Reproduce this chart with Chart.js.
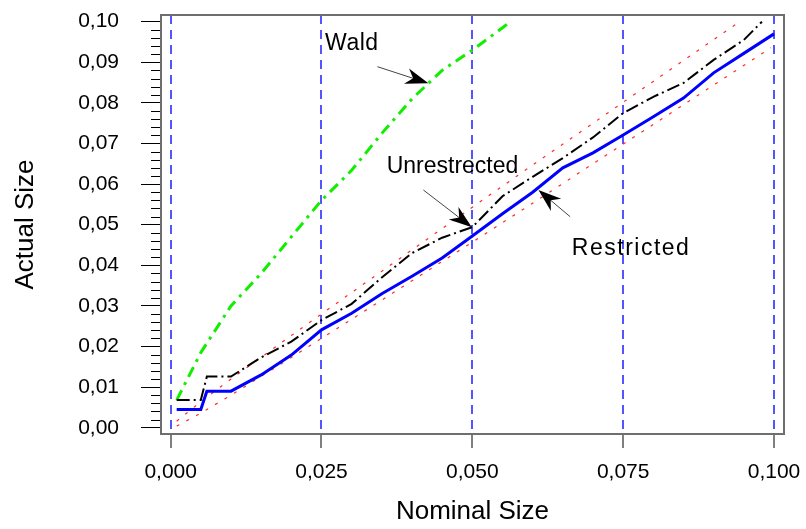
<!DOCTYPE html>
<html>
<head>
<meta charset="utf-8">
<script src="https://cdn.jsdelivr.net/npm/chart.js@4"></script>
<style>
  body { margin: 0; background: #fff; }
  canvas { display: block; }
</style>
</head>
<body>
<canvas id="sizeChart" width="806" height="529"></canvas>
<script>
// values (nominal size -> actual size)
var restrictedX = [0.001, 0.005, 0.006, 0.010, 0.015, 0.020, 0.025, 0.030, 0.035, 0.040, 0.045, 0.050,
                   0.055, 0.060, 0.065, 0.070, 0.075, 0.080, 0.085, 0.090, 0.095, 0.100];
var restrictedY = [0.0045, 0.0045, 0.0090, 0.0090, 0.0130, 0.0179, 0.0241, 0.0282, 0.0330, 0.0373, 0.0418, 0.0472,
                   0.0527, 0.0580, 0.0640, 0.0677, 0.0721, 0.0766, 0.0812, 0.0874, 0.0922, 0.0970];

var unrestrictedX = [0.001, 0.005, 0.006, 0.010, 0.015, 0.020, 0.025, 0.030, 0.035, 0.040, 0.045, 0.050,
                     0.055, 0.060, 0.065, 0.070, 0.075, 0.080, 0.085, 0.090, 0.095, 0.098];
var unrestrictedY = [0.0068, 0.0068, 0.0126, 0.0126, 0.0173, 0.0212, 0.0265, 0.0305, 0.0370, 0.0430, 0.0468, 0.0494,
                     0.0570, 0.0618, 0.0664, 0.0715, 0.0775, 0.0815, 0.0849, 0.0906, 0.0955, 0.1000];

var waldX = [0.001, 0.005, 0.010, 0.015, 0.020, 0.025, 0.030, 0.035, 0.040, 0.045, 0.050, 0.055, 0.0563];
var waldY = [0.0068, 0.0185, 0.0300, 0.0380, 0.0470, 0.0560, 0.0634, 0.0725, 0.0810, 0.0880, 0.0930, 0.0985, 0.1000];

var upperX = [0.001, 0.005, 0.010, 0.020, 0.030, 0.040, 0.050, 0.060, 0.070, 0.080, 0.090, 0.094];
var upperY = [0.0016, 0.0064, 0.0120, 0.0227, 0.0333, 0.0438, 0.0543, 0.0647, 0.0750, 0.0853, 0.0956, 0.0997];
var lowerX = [0.001, 0.005, 0.010, 0.020, 0.030, 0.040, 0.050, 0.060, 0.070, 0.080, 0.090, 0.0995];
var lowerY = [0.0004, 0.0036, 0.0080, 0.0173, 0.0267, 0.0362, 0.0457, 0.0553, 0.0650, 0.0747, 0.0844, 0.0936];

var xTickValues = [0, 0.025, 0.05, 0.075, 0.1];
var xTickLabels = ['0,000', '0,025', '0,050', '0,075', '0,100'];
var yTickLabels = ['0,00', '0,01', '0,02', '0,03', '0,04', '0,05', '0,06', '0,07', '0,08', '0,09', '0,10'];

var FONT = '"Liberation Sans", Arial, sans-serif';

function toPoints(xs, ys) {
    return xs.map(function (x, i) { return {x: x, y: ys[i]}; });
}

// text + arrow labels, placed in data units
var notes = [
    {text: 'Wald', spacing: 0.5, tx: 0.0256, ty: 0.0930, from: [0.03427, 0.08892], to: [0.04272, 0.08483]},
    {text: 'Unrestrected', spacing: 0, tx: 0.0358, ty: 0.0628, from: [0.04189, 0.05855], to: [0.04992, 0.04936]},
    {text: 'Restricted', spacing: 1.5, tx: 0.0665, ty: 0.0425, from: [0.06622, 0.05197], to: [0.06096, 0.05855]}
];

var framePlugin = {
    id: 'frame',
    afterDatasetsDraw: function (chart) {
        var c = chart.ctx, a = chart.chartArea;
        var xs = chart.scales.x, ys = chart.scales.y;
        c.save();
        // short minor ticks on the y axis
        c.strokeStyle = '#000';
        c.lineWidth = 1;
        ys.ticks.forEach(function (t, i) {
            if (i % 5 === 0) return;
            var py = Math.round(ys.getPixelForValue(t.value)) + 0.5;
            c.beginPath();
            c.moveTo(a.left - 10, py);
            c.lineTo(a.left, py);
            c.stroke();
        });
        // plot box
        c.strokeStyle = '#6e6e6e';
        c.lineWidth = 2;
        c.strokeRect(a.left, a.top, a.right - a.left, a.bottom - a.top);

        // annotations
        c.font = '23px ' + FONT;
        c.textBaseline = 'alphabetic';
        notes.forEach(function (n) {
            c.fillStyle = '#000';
            c.letterSpacing = n.spacing + 'px';
            c.fillText(n.text, xs.getPixelForValue(n.tx), ys.getPixelForValue(n.ty));
            var x0 = xs.getPixelForValue(n.from[0]), y0 = ys.getPixelForValue(n.from[1]);
            var x1 = xs.getPixelForValue(n.to[0]), y1 = ys.getPixelForValue(n.to[1]);
            var ang = Math.atan2(y1 - y0, x1 - x0);
            c.strokeStyle = '#444';
            c.lineWidth = 1;
            c.beginPath();
            c.moveTo(x0, y0);
            c.lineTo(x1 - 14 * Math.cos(ang), y1 - 14 * Math.sin(ang));
            c.stroke();
            // barbed head
            var len = 23, half = 8, notch = 16;
            c.beginPath();
            c.moveTo(x1, y1);
            c.lineTo(x1 - len * Math.cos(ang) + half * Math.sin(ang), y1 - len * Math.sin(ang) - half * Math.cos(ang));
            c.lineTo(x1 - notch * Math.cos(ang), y1 - notch * Math.sin(ang));
            c.lineTo(x1 - len * Math.cos(ang) - half * Math.sin(ang), y1 - len * Math.sin(ang) + half * Math.cos(ang));
            c.closePath();
            c.fill();
        });
        c.restore();
    }
};

var ctx = document.getElementById('sizeChart').getContext('2d');

var sizeChart = new Chart(ctx, {
    type: 'scatter',
    data: {
        datasets: [
            {label: 'Restricted', data: toPoints(restrictedX, restrictedY), showLine: true,
             borderColor: '#0000ff', borderWidth: 3, pointRadius: 0},
            {label: 'Unrestricted', data: toPoints(unrestrictedX, unrestrictedY), showLine: true,
             borderColor: '#000', borderWidth: 2, borderDash: [13, 4, 2, 4], pointRadius: 0},
            {label: 'Wald', data: toPoints(waldX, waldY), showLine: true,
             borderColor: '#11ee00', borderWidth: 3, borderDash: [11, 6, 3, 6], pointRadius: 0},
            {label: 'Upper', data: toPoints(upperX, upperY), showLine: true,
             borderColor: '#ff2a2a', borderWidth: 1.2, borderDash: [3, 8], pointRadius: 0},
            {label: 'Lower', data: toPoints(lowerX, lowerY), showLine: true,
             borderColor: '#ff2a2a', borderWidth: 1.2, borderDash: [3, 8], pointRadius: 0}
        ]
    },
    options: {
        responsive: false,
        animation: false,
        layout: {padding: {top: 15, right: 22, left: 0, bottom: 0}},
        plugins: {legend: {display: false}, tooltip: {enabled: false}},
        scales: {
            x: {
                type: 'linear',
                min: -0.0016,
                max: 0.10166,
                afterBuildTicks: function (s) {
                    s.ticks = xTickValues.map(function (v) { return {value: v}; });
                },
                afterFit: function (s) {
                    s.height = 95;
                    s.paddingLeft = 0;
                    s.paddingRight = 0;
                },
                border: {display: false, dash: [9, 6]},
                grid: {color: '#5555ff', lineWidth: 2, tickColor: '#000', tickLength: 14, tickWidth: 1},
                ticks: {
                    color: '#000', font: {family: FONT, size: 21}, padding: 12, maxRotation: 0, autoSkip: false,
                    callback: function (v, i) { return xTickLabels[i]; }
                },
                title: {display: true, text: 'Nominal Size', color: '#000',
                        font: {family: FONT, size: 26}, padding: {top: 0, bottom: 2}}
            },
            y: {
                type: 'linear',
                min: -0.00155,
                max: 0.10165,
                afterBuildTicks: function (s) {
                    var t = [];
                    for (var i = 0; i <= 50; i++) t.push({value: i * 0.002});
                    s.ticks = t;
                },
                afterFit: function (s) {
                    s.width = 161;
                    s.paddingTop = 0;
                    s.paddingBottom = 0;
                },
                border: {display: false},
                grid: {
                    drawOnChartArea: false, tickLength: 20, tickWidth: 1,
                    tickColor: function (c) { return c.index % 5 === 0 ? '#000' : 'rgba(0,0,0,0)'; }
                },
                ticks: {
                    color: '#000', font: {family: FONT, size: 21}, padding: 22, autoSkip: false,
                    callback: function (v, i) { return i % 5 === 0 ? yTickLabels[i / 5] : ''; }
                },
                title: {display: true, text: 'Actual Size', color: '#000',
                        font: {family: FONT, size: 26}, padding: {top: 10, bottom: 0}}
            }
        }
    },
    plugins: [framePlugin]
});
</script>
</body>
</html>
